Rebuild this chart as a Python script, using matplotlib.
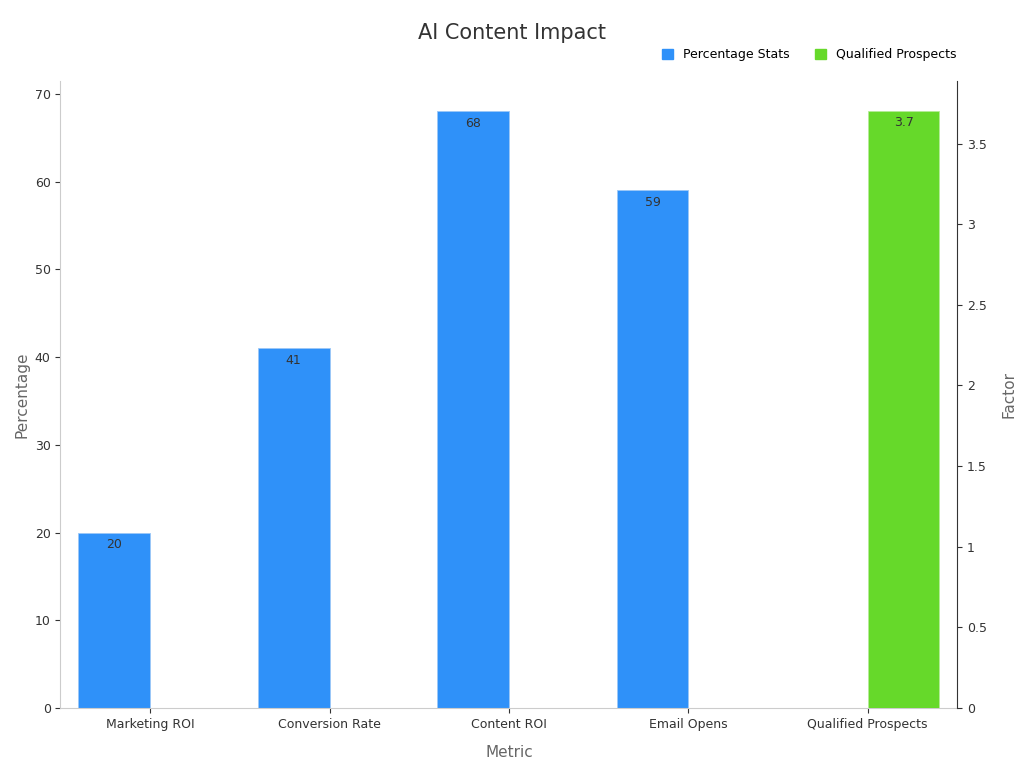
import numpy as np
import matplotlib.pyplot as plt

categories = ["Marketing ROI", "Conversion Rate", "Content ROI", "Email Opens", "Qualified Prospects"]
percentage_stats = [20, 41, 68, 59, None]
qualified_prospects = [None, None, None, None, 3.7]

blue = "#2F91F9"
green = "#66D92A"

fig, ax = plt.subplots(figsize=(10.24, 7.68), dpi=100)
fig.subplots_adjust(left=0.059, right=0.935, top=0.895, bottom=0.078)
ax2 = ax.twinx()

x = np.arange(len(categories))
w = 0.4
for i, v in enumerate(percentage_stats):
    if v is not None:
        ax.bar(x[i] - w / 2, v, w, color=blue, edgecolor="#9cc8f7", linewidth=0.6)
        ax.text(x[i] - w / 2, v - 0.6, f"{v:g}", ha="center", va="top", fontsize=9, color="#333333")
for i, v in enumerate(qualified_prospects):
    if v is not None:
        ax2.bar(x[i] + w / 2, v, w, color=green, edgecolor="#b5ec98", linewidth=0.6)
        ax2.text(x[i] + w / 2, v - 0.03, f"{v:g}", ha="center", va="top", fontsize=9, color="#333333")

ax.set_xlim(-0.5, 4.5)
ax.set_ylim(0, 71.5)
ax2.set_ylim(0, 3.89)
ax.set_yticks(range(0, 71, 10))
ax2.set_yticks(np.arange(0, 3.6, 0.5))
ax2.set_yticklabels(["0", "0.5", "1", "1.5", "2", "2.5", "3", "3.5"])
ax.set_xticks(x)
ax.set_xticklabels(categories)

for a in (ax, ax2):
    a.spines["top"].set_visible(False)
    a.tick_params(labelsize=9, colors="#333333")
ax.spines["left"].set_color("#cccccc")
ax.spines["bottom"].set_color("#cccccc")
ax.spines["right"].set_visible(False)
ax2.spines["left"].set_visible(False)
ax2.spines["bottom"].set_visible(False)
ax2.spines["right"].set_color("#333333")

ax.set_xlabel("Metric", fontsize=11, color="#666666", labelpad=10)
ax.set_ylabel("Percentage", fontsize=11, color="#666666")
ax2.set_ylabel("Factor", fontsize=11, color="#666666", labelpad=10)

fig.suptitle("AI Content Impact", fontsize=15, color="#333333", y=0.97)
handles = [plt.Rectangle((0, 0), 1, 1, color=blue), plt.Rectangle((0, 0), 1, 1, color=green)]
fig.legend(handles, ["Percentage Stats", "Qualified Prospects"], loc="upper right",
           bbox_to_anchor=(0.945, 0.952), ncol=2, frameon=False, fontsize=9,
           handlelength=0.9, handleheight=0.9, columnspacing=2)

fig.savefig("out.png")
